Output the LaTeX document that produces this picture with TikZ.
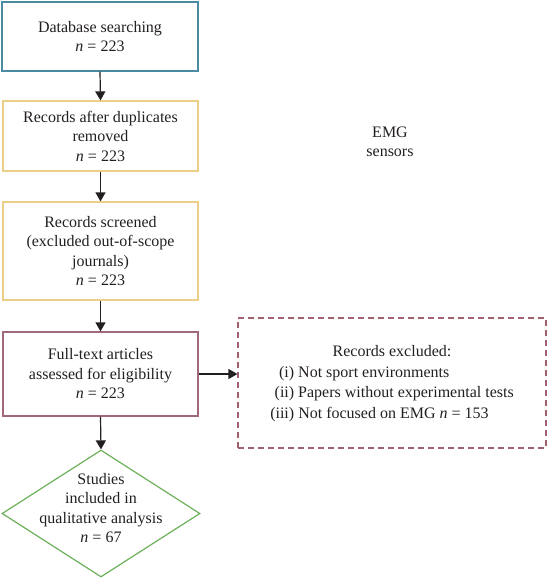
\documentclass[tikz,border=0pt]{standalone}
\usepackage{fontspec}
\setmainfont{Liberation Serif}
\usetikzlibrary{arrows.meta,shapes.geometric}
\definecolor{tealb}{HTML}{4A8BA2}
\definecolor{yelb}{HTML}{EBCF87}
\definecolor{marb}{HTML}{A0687A}
\definecolor{dashb}{HTML}{A0606E}
\definecolor{greenb}{HTML}{6DB05A}
\definecolor{ink}{HTML}{231F20}
\begin{document}
\begin{tikzpicture}[x=1pt,y=-1pt,
  font=\fontsize{16}{19.5}\selectfont,
  box/.style={draw, line width=1.2pt, inner sep=0pt, align=center, text=ink},
  arr/.style={draw=ink, line width=1.2pt, -{Triangle[length=9pt,width=10pt]}}]
\useasboundingbox (0,0) rectangle (548,579);
\node[box, draw=tealb, minimum width=196pt, minimum height=69pt] (b1) at (100,36.5)
  {Database searching\\\textit{n} = 223};
\node[box, draw=yelb, minimum width=195pt, minimum height=70pt] (b2) at (100.5,136)
  {Records after duplicates\\removed\\\textit{n} = 223};
\node[box, draw=yelb, minimum width=195pt, minimum height=98pt] (b3) at (100.5,251)
  {Records screened\\(excluded out-of-scope\\journals)\\\textit{n} = 223};
\node[box, draw=marb, minimum width=195pt, minimum height=84pt] (b4) at (100.5,374)
  {Full-text articles\\assessed for eligibility\\\textit{n} = 223};
\node[draw=greenb, line width=1.2pt, diamond, minimum width=198pt, minimum height=127pt, inner sep=0pt] (d) at (101,513.5) {};
\node[align=center, text=ink] (dt) at (101,508) {Studies\\included in\\qualitative analysis\\\textit{n} = 67};
\node[draw=dashb, line width=1.2pt, dash pattern=on 6pt off 4pt, minimum width=308pt, minimum height=130pt, inner sep=0pt] (ex) at (392,383) {};
\node[text=ink, inner sep=0pt, font=\fontsize{16}{20.5}\selectfont] (ext) at (392,383.5)
  {\begin{tabular}{@{}r@{\ }l@{}}
   \multicolumn{2}{c}{Records excluded:}\\
   (i) & Not sport environments\\
   (ii) & Papers without experimental tests\\
   (iii) & Not focused on EMG \textit{n} = 153
   \end{tabular}};
\node[align=center, text=ink] (emg) at (390,142) {EMG\\sensors};
\draw[arr] (b1.south) -- (b2.north);
\draw[arr] (b2.south) -- (b3.north);
\draw[arr] (b3.south) -- (b4.north);
\draw[arr] (b4.south) -- (d.north);
\draw[arr] (b4.east) -- (b4.east -| ex.west);
\end{tikzpicture}
\end{document}
